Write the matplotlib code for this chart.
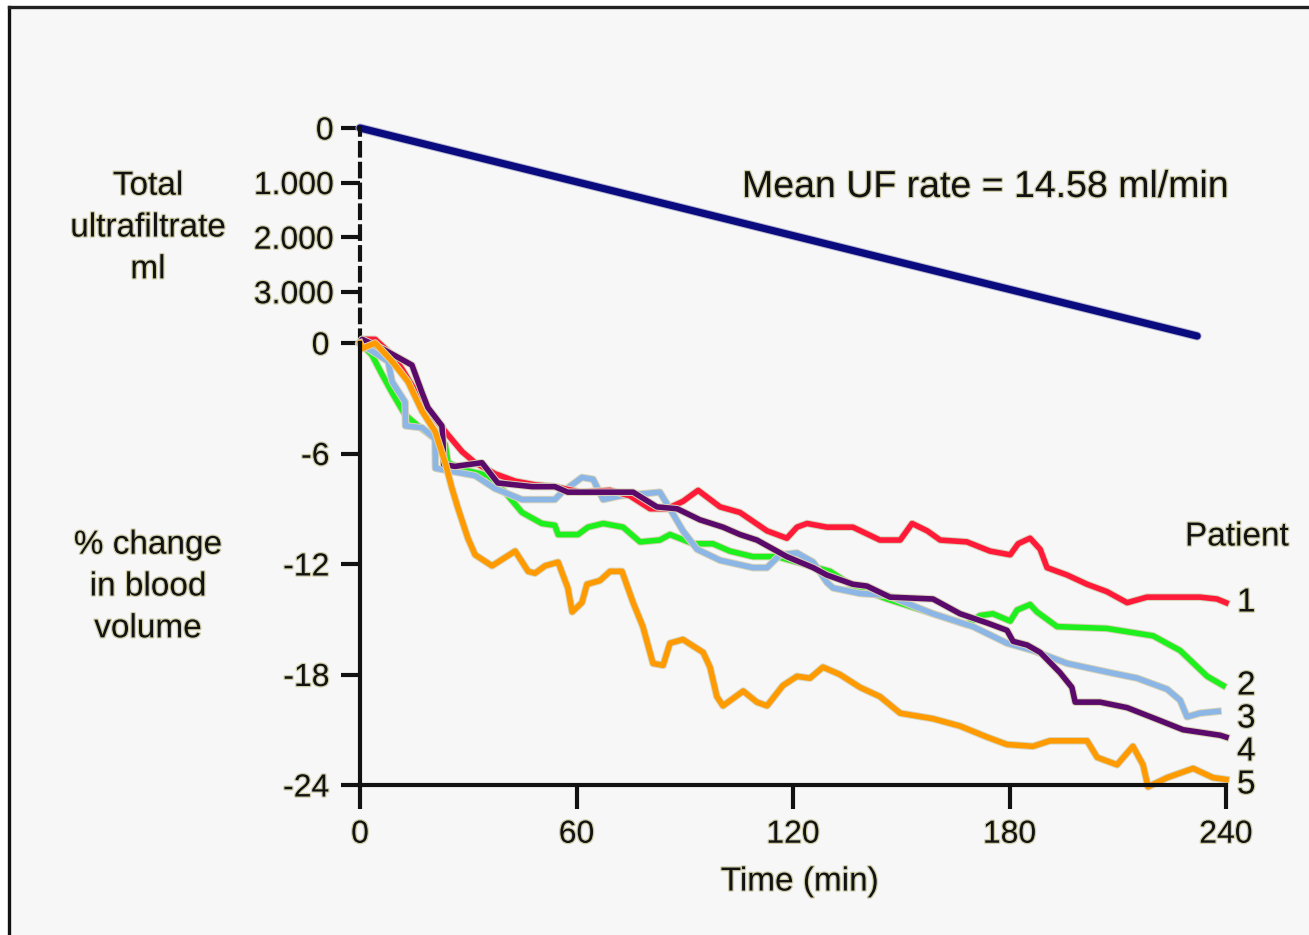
import matplotlib
matplotlib.use("Agg")
import matplotlib.pyplot as plt
import matplotlib.patheffects as pe
from matplotlib.lines import Line2D

plt.rcParams['font.family'] = ['Liberation Sans', 'DejaVu Sans']

# ---------------- data ----------------
uf_time = [0, 232]
uf_ml = [0, 3810]
uf_ticks = [0, 1000, 2000, 3000]
uf_ticklabels = ["0", "1.000", "2.000", "3.000"]

bv_ticks = [0, -6, -12, -18, -24]
time_ticks = [0, 60, 120, 180, 240]

p1_t = [0, 0.6, 4.2, 8.9, 11.6, 14.4, 18.0, 23.6, 28.3, 31.9, 37.4, 43.0, 48.5, 54.0, 58.8, 61.0,
        69.3, 74.8, 80.4, 85.1, 89.5, 93.7, 99.8, 105.3, 112.8, 118.3, 121.1, 123.9, 129.4, 136.6,
        144.1, 149.7, 153.0, 157.2, 160.8, 168.2, 174.6, 180.2, 182.4, 185.7, 188.5, 190.4, 196.0,
        201.5, 207.0, 212.6, 218.1, 232.8, 237.5, 240]
p1_v = [0, 0.2, 0.2, -0.65, -1.4, -2.3, -3.4, -4.8, -5.9, -6.5, -7.1, -7.5, -7.7, -7.8, -8.0, -8.1,
        -8.0, -8.3, -9.0, -9.0, -8.6, -8.0, -8.9, -9.2, -10.2, -10.6, -10.0, -9.8, -10.0, -10.0,
        -10.7, -10.7, -9.8, -10.2, -10.7, -10.8, -11.3, -11.5, -10.9, -10.6, -11.2, -12.2, -12.6,
        -13.1, -13.5, -14.1, -13.8, -13.8, -13.9, -14.1]

p2_t = [0, 0.6, 3.3, 6.1, 8.9, 12.5, 16.1, 20.8, 23.6, 24.4, 29.1, 35.5, 40.2, 44.9, 50.4, 54.0,
        54.9, 60.4, 63.2, 67.4, 72.9, 77.6, 83.1, 85.9, 92.3, 97.8, 102.5, 108.9, 115.6, 121.1,
        130.3, 136.6, 146.1, 158.8, 168.2, 171.8, 175.4, 180.2, 182.1, 185.7, 187.6, 193.2, 207.0,
        219.8, 227.3, 234.8, 239.2]
p2_v = [0, -0.1, -0.65, -1.7, -2.7, -3.9, -4.5, -5.2, -5.5, -6.5, -6.9, -7.2, -8.1, -9.2, -9.8, -9.9,
        -10.4, -10.4, -10.0, -9.8, -10.0, -10.8, -10.7, -10.4, -10.9, -10.9, -11.3, -11.6, -11.6, -11.9,
        -12.4, -13.2, -13.9, -14.7, -15.3, -14.8, -14.7, -15.1, -14.5, -14.2, -14.6, -15.4, -15.5,
        -15.9, -16.7, -18.1, -18.6]

p3_t = [0, 0.6, 7.8, 8.9, 12.5, 12.6, 17.2, 20.8, 20.9, 26.3, 31.9, 37.4, 44.9, 54.0, 56.0, 61.5,
        64.6, 67.4, 72.1, 83.1, 85.9, 89.5, 93.4, 99.8, 108.9, 112.8, 116.4, 121.1, 125.6, 129.4,
        131.1, 138.6, 146.1, 158.8, 169.9, 179.3, 186.5, 196.0, 207.9, 215.4, 223.7, 227.3, 229.2,
        232.8, 237.8]
p3_v = [0, -0.1, -1.0, -2.1, -3.2, -4.5, -4.6, -5.2, -6.8, -7.0, -7.2, -7.9, -8.5, -8.5, -8.1, -7.3,
        -7.4, -8.5, -8.3, -8.1, -9.0, -10.2, -11.2, -11.8, -12.2, -12.2, -11.5, -11.4, -11.9, -13.0,
        -13.3, -13.6, -13.7, -14.7, -15.4, -16.3, -16.7, -17.4, -17.9, -18.2, -18.8, -19.4, -20.3,
        -20.1, -20.0]

p4_t = [0, 0.6, 6.1, 14.4, 17.2, 18.8, 22.7, 23.0, 23.2, 26.3, 33.8, 38.2, 47.7, 54.0, 57.6, 75.7,
        82.3, 87.9, 94.2, 100.6, 105.3, 110.0, 118.3, 125.6, 129.4, 136.6, 140.5, 146.9, 158.8,
        166.3, 173.8, 179.3, 181.0, 184.9, 188.5, 194.0, 197.3, 198.2, 205.1, 212.6, 221.7, 228.1,
        238.4, 240]
p4_v = [0, 0.2, -0.3, -1.2, -2.7, -3.5, -4.5, -5.3, -6.6, -6.7, -6.5, -7.6, -7.8, -7.8, -8.1, -8.1,
        -8.9, -9.0, -9.6, -10.0, -10.4, -10.7, -11.6, -12.2, -12.6, -13.1, -13.2, -13.8, -13.9,
        -14.7, -15.2, -15.6, -16.2, -16.4, -16.8, -17.9, -18.7, -19.5, -19.5, -19.8, -20.5, -21.0,
        -21.3, -21.4]

p5_t = [0, 0.6, 4.2, 8.9, 13.3, 17.2, 20.8, 23.6, 25.5, 27.2, 29.9, 31.9, 36.6, 43.0, 46.6, 48.5,
        51.3, 54.9, 57.6, 58.8, 61.5, 62.9, 66.5, 69.3, 72.6, 75.7, 78.4, 81.2, 84.0, 85.9, 89.5,
        95.1, 97.0, 98.9, 100.6, 106.2, 110.0, 112.8, 117.2, 121.1, 124.7, 128.3, 133.0, 138.6,
        144.1, 149.7, 158.8, 166.3, 173.8, 179.3, 186.5, 191.2, 201.5, 204.3, 209.8, 214.2, 217.0,
        218.4, 223.7, 230.9, 236.4, 240]
p5_v = [0, -0.3, 0.0, -1.0, -2.1, -3.7, -4.8, -6.5, -7.9, -9.0, -10.6, -11.5, -12.1, -11.3, -12.4, -12.5,
        -12.1, -11.9, -13.3, -14.6, -14.1, -13.1, -12.9, -12.4, -12.4, -14.1, -15.4, -17.4, -17.5, -16.3,
        -16.1, -16.8, -17.6, -19.2, -19.7, -18.9, -19.5, -19.7, -18.6, -18.1, -18.2, -17.6, -18.0,
        -18.7, -19.2, -20.1, -20.4, -20.8, -21.4, -21.8, -21.9, -21.6, -21.6, -22.5, -22.9, -21.9,
        -22.9, -24.1, -23.6, -23.1, -23.6, -23.7]

patients = ["1", "2", "3", "4", "5"]

# ---------------- figure ----------------
W, H = 1309, 935
fig = plt.figure(figsize=(W / 100, H / 100), dpi=100, facecolor='white')

def fx(x):
    return x / W

def fy(y):
    return 1 - y / H

# background panel with black border (left and top)
fig.patches.append(plt.Rectangle((fx(10), 0), 1 - fx(10), fy(8), transform=fig.transFigure,
                                 facecolor='#f7f7f7', edgecolor='none', zorder=-10))
fig.add_artist(Line2D([fx(9), fx(9)], [0, fy(7)], transform=fig.transFigure, color='#111111', lw=2.4))
fig.add_artist(Line2D([fx(9), 1], [fy(7), fy(7)], transform=fig.transFigure, color='#222222', lw=2.4))

TXT = '#121212'
halo = [pe.withStroke(linewidth=1.8, foreground='#cfcca8')]
tick_fs = 23
lab_fs = 24
spine_lw = 3.0

x0, x1 = 360, 1226
ytop_uf, y0_bv, ybot = 128, 343, 785

# upper axes (ultrafiltrate)
ax_uf = fig.add_axes([fx(x0), fy(y0_bv), fx(x1) - fx(x0), fy(ytop_uf) - fy(y0_bv)])
ax_uf.set_facecolor('none')
ax_uf.set_xlim(0, 240)
ax_uf.set_ylim((y0_bv - ytop_uf) / 54.6 * 1000, 0)
for s in ['top', 'right', 'bottom']:
    ax_uf.spines[s].set_visible(False)
ax_uf.spines['left'].set_linewidth(spine_lw)
ax_uf.spines['left'].set_linestyle((0, (3.0, 2.0)))
ax_uf.spines['left'].set_color('#111111')
ax_uf.set_xticks([])
ax_uf.set_yticks(uf_ticks)
ax_uf.set_yticklabels(uf_ticklabels)
ax_uf.tick_params(axis='y', direction='out', length=14, width=spine_lw, color='#111111',
                  labelsize=tick_fs, labelcolor=TXT, pad=5)
for lb in ax_uf.get_yticklabels():
    lb.set_path_effects(halo)
ax_uf.plot(uf_time, uf_ml, color='#0b0b80', lw=5.2, solid_capstyle='round', clip_on=False,
           path_effects=[pe.Stroke(linewidth=6.6, foreground='#b8b8d0'), pe.Normal()])

# lower axes (blood volume)
ax = fig.add_axes([fx(x0), fy(ybot), fx(x1) - fx(x0), fy(y0_bv) - fy(ybot)])
ax.set_facecolor('none')
ax.set_xlim(0, 240)
ax.set_ylim(-24, 0)
for s in ['top', 'right']:
    ax.spines[s].set_visible(False)
for s in ['left', 'bottom']:
    ax.spines[s].set_linewidth(spine_lw)
    ax.spines[s].set_color('#111111')
ax.set_xticks(time_ticks)
ax.set_yticks(bv_ticks)
ax.set_yticklabels([str(v) for v in bv_ticks])
ax.tick_params(axis='y', direction='out', length=14, width=spine_lw, color='#111111',
               labelsize=tick_fs, labelcolor=TXT, pad=8)
ax.tick_params(axis='x', direction='out', length=17, width=spine_lw, color='#111111',
               labelsize=tick_fs, labelcolor=TXT, pad=8)
for lb in ax.get_yticklabels() + ax.get_xticklabels():
    lb.set_path_effects(halo)

series = [
    (p2_t, p2_v, '#1ef01e'),
    (p3_t, p3_v, '#8cb6e6'),
    (p1_t, p1_v, '#ff1a3a'),
    (p4_t, p4_v, '#5a0a6a'),
    (p5_t, p5_v, '#ff9a00'),
]
for t, v, c in series:
    ax.plot(t, v, color=c, lw=4.0, clip_on=False, solid_joinstyle='round',
            path_effects=[pe.Stroke(linewidth=5.4, foreground='#d8d3b8'), pe.Normal()])

# texts
def ftext(x, y, s, **kw):
    t = fig.text(fx(x), fy(y), s, color=TXT, **kw)
    t.set_path_effects(halo)
    return t

ftext(148, 228, "Total\nultrafiltrate\nml", ha='center', va='center', fontsize=lab_fs,
      linespacing=1.45)
ftext(148, 587, "% change\nin blood\nvolume", ha='center', va='center', fontsize=lab_fs,
      linespacing=1.45)
ftext(742, 187, "Mean UF rate = 14.58 ml/min", ha='left', va='center', fontsize=27)
ftext(1185, 537, "Patient", ha='left', va='center', fontsize=lab_fs)
for lab, yy in zip(patients, [603, 686, 719, 752, 785]):
    ftext(1237, yy, lab, ha='left', va='center', fontsize=lab_fs)
ftext(800, 882, "Time (min)", ha='center', va='center', fontsize=lab_fs)

fig.savefig("out.png", dpi=100, facecolor=fig.get_facecolor())
